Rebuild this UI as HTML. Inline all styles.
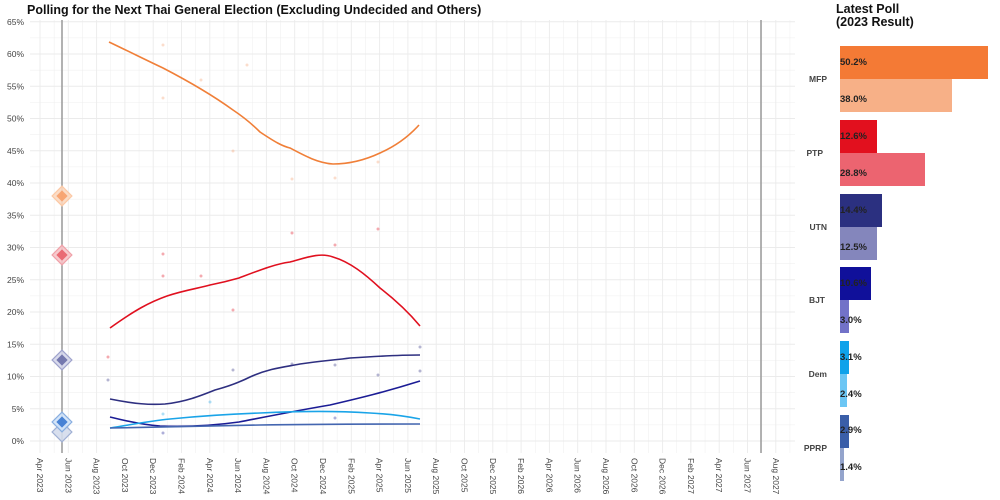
<!DOCTYPE html>
<html><head><meta charset="utf-8"><style>body{margin:0;background:#fff}svg{display:block;font-family:"Liberation Sans",sans-serif}</style></head>
<body>
<svg width="1000" height="500" viewBox="0 0 1000 500">
<rect width="1000" height="500" fill="#fff"/>
<text x="27" y="14" font-size="12.5" font-weight="bold" fill="#111">Polling for the Next Thai General Election (Excluding Undecided and Others)</text>
<g id="grid" stroke="#ebebeb" stroke-width="0.8"></g>
<g id="ylab" font-size="8.5" fill="#444" text-anchor="end"></g>
<g id="xlab" font-size="8.5" fill="#444"></g>
<line x1="62" y1="20" x2="62" y2="453" stroke="#999" stroke-width="1.5"/>
<line x1="761" y1="20" x2="761" y2="453" stroke="#999" stroke-width="1.5"/>
<g fill="none" stroke-width="1.6">
<path d="M109,42 C130,52 150,62 163,68 C190,82 215,97 233,110 C245,118 252,124 260,132 C275,142 282,146 290,148 C305,156 318,163 333,164 C350,164 365,160 380,153 C398,145 410,135 419,125" stroke="#f07f38"/>
<path d="M110,328 C135,310 150,302 167,296 C185,290 200,288 210,285 C225,282 232,280 239,278 C260,270 275,264 290,262 C305,258 320,252 333,257 C350,262 365,274 380,288 C398,302 410,314 420,326" stroke="#e0101f"/>
<path d="M110,399 C135,404 150,405 165,404 C185,402 200,396 215,390 C230,386 240,382 250,377 C270,368 285,367 300,364 C320,361 335,360 350,358 C380,356 400,355 420,355" stroke="#2e2f80"/>
<path d="M110,417 C130,422 145,425 160,426 C185,427 210,426 239,422 C270,416 300,410 330,405 C360,398 385,392 420,381" stroke="#1b1c95"/>
<path d="M110,428 C135,424 150,421 170,419 C200,416 230,414 260,413 C300,411 340,411 370,413 C390,414 405,416 420,419" stroke="#1aa4e8"/>
<path d="M110,428 C150,427 200,426 260,425 C320,424 380,424 420,424" stroke="#4466b0"/>
</g>
<g opacity="0.35">
<circle cx="163" cy="45" r="1.5" fill="#f4a070"/><circle cx="163" cy="98" r="1.5" fill="#f4a070"/><circle cx="201" cy="80" r="1.5" fill="#f4a070"/><circle cx="247" cy="65" r="1.5" fill="#f4a070"/><circle cx="233" cy="151" r="1.5" fill="#f4a070"/><circle cx="292" cy="179" r="1.5" fill="#f4a070"/><circle cx="335" cy="178" r="1.5" fill="#f4a070"/><circle cx="378" cy="162" r="1.5" fill="#f4a070"/>
<circle cx="292" cy="233" r="1.5" fill="#e0101f"/><circle cx="335" cy="245" r="1.5" fill="#e0101f"/><circle cx="378" cy="229" r="1.5" fill="#e0101f"/><circle cx="163" cy="254" r="1.5" fill="#e0101f"/><circle cx="163" cy="276" r="1.5" fill="#e0101f"/><circle cx="201" cy="276" r="1.5" fill="#e0101f"/><circle cx="233" cy="310" r="1.5" fill="#e0101f"/><circle cx="108" cy="357" r="1.5" fill="#e0101f"/>
<circle cx="108" cy="380" r="1.5" fill="#2e2f80"/><circle cx="233" cy="370" r="1.5" fill="#2e2f80"/><circle cx="292" cy="364" r="1.5" fill="#2e2f80"/><circle cx="335" cy="365" r="1.5" fill="#2e2f80"/><circle cx="378" cy="375" r="1.5" fill="#2e2f80"/><circle cx="420" cy="347" r="1.5" fill="#2e2f80"/><circle cx="420" cy="371" r="1.5" fill="#2e2f80"/>
<circle cx="163" cy="433" r="1.5" fill="#1b1c95"/><circle cx="210" cy="402" r="1.5" fill="#1aa4e8"/><circle cx="163" cy="414" r="1.5" fill="#1aa4e8"/><circle cx="335" cy="418" r="1.5" fill="#1b1c95"/>
</g>
<g stroke-width="1.2" fill-opacity="0.9">
<rect x="55" y="189" width="14" height="14" transform="rotate(45 62 196)" fill="#fbd8c0" stroke="#fcc8a4"/>
<rect x="58" y="192" width="8" height="8" transform="rotate(45 62 196)" fill="#f7a06a"/>
<rect x="55" y="248" width="14" height="14" transform="rotate(45 62 255)" fill="#f6c4c8" stroke="#f0a0a8"/>
<rect x="58" y="251" width="8" height="8" transform="rotate(45 62 255)" fill="#e8606a"/>
<rect x="55" y="353" width="14" height="14" transform="rotate(45 62 360)" fill="#d4d6ea" stroke="#9ea2cc"/>
<rect x="58" y="356" width="8" height="8" transform="rotate(45 62 360)" fill="#6a6ea8"/>
<rect x="55" y="425" width="14" height="14" transform="rotate(45 62 432)" fill="#d4dcec" stroke="#a0b0d4"/>
<rect x="55" y="415" width="14" height="14" transform="rotate(45 62 422)" fill="#cfe2f8" stroke="#88aee0"/>
<rect x="58" y="418" width="8" height="8" transform="rotate(45 62 422)" fill="#3a78d0"/>
</g>
<text x="836" y="13" font-size="12.5" font-weight="bold" fill="#111">Latest Poll</text>
<text x="836" y="26" font-size="12.5" font-weight="bold" fill="#111">(2023 Result)</text>
<g font-size="8.5" fill="#444" text-anchor="end" font-weight="bold">
<text x="827" y="82">MFP</text><text x="823" y="156">PTP</text><text x="827" y="230">UTN</text><text x="825" y="303">BJT</text><text x="827" y="377">Dem</text><text x="827" y="451">PPRP</text>
</g>
<g>
<rect x="840" y="46" width="148" height="33" fill="#f47a35"/><rect x="840" y="79" width="112" height="33" fill="#f7b087"/>
<rect x="840" y="120" width="37" height="33" fill="#e2101e"/><rect x="840" y="153" width="85" height="33" fill="#ec6470"/>
<rect x="840" y="194" width="42" height="33" fill="#2b3080"/><rect x="840" y="227" width="37" height="33" fill="#8486bc"/>
<rect x="840" y="267" width="31" height="33" fill="#10109a"/><rect x="840" y="300" width="9" height="33" fill="#7272c8"/>
<rect x="840" y="341" width="9" height="33" fill="#0fa2ea"/><rect x="840" y="374" width="7" height="33" fill="#6cc6f4"/>
<rect x="840" y="415" width="9" height="33" fill="#3a5ea8"/><rect x="840" y="448" width="4" height="33" fill="#94a4cc"/>
</g>
<g font-size="9.5" fill="#222" font-weight="bold">
<text x="840" y="65">50.2%</text><text x="840" y="102">38.0%</text>
<text x="840" y="139">12.6%</text><text x="840" y="176">28.8%</text>
<text x="840" y="213">14.4%</text><text x="840" y="250">12.5%</text>
<text x="840" y="286">10.6%</text><text x="840" y="323">3.0%</text>
<text x="840" y="360">3.1%</text><text x="840" y="397">2.4%</text>
<text x="840" y="433">2.9%</text><text x="840" y="470">1.4%</text>
</g>
<script>
var ns="http://www.w3.org/2000/svg";
var g=document.getElementById('grid'),yl=document.getElementById('ylab'),xl=document.getElementById('xlab');
function el(p,t,a){var e=document.createElementNS(ns,t);for(var k in a)e.setAttribute(k,a[k]);p.appendChild(e);return e;}
for(var v=0;v<=65;v+=2.5){var y=441-6.45*v;el(g,'line',{x1:30,x2:795,y1:y,y2:y,'stroke-width':v%5==0?0.9:0.4});
if(v%5==0){var t=el(yl,'text',{x:24,y:y+3});t.textContent=v+'%';}}
var m=['Apr','Jun','Aug','Oct','Dec','Feb'];
for(var i=0;i<27;i++){var x=40+i*28.3;el(g,'line',{x1:x,x2:x,y1:20,y2:453,'stroke-width':0.9});
el(g,'line',{x1:x+14.15,x2:x+14.15,y1:20,y2:453,'stroke-width':0.4});
var mon=m[i%6];var yr=2023+Math.floor((i+1)/6);
var t=el(xl,'text',{transform:'translate('+(x-3)+',458) rotate(90)'});t.textContent=mon+' '+yr;}
</script>
</svg>
</body></html>
